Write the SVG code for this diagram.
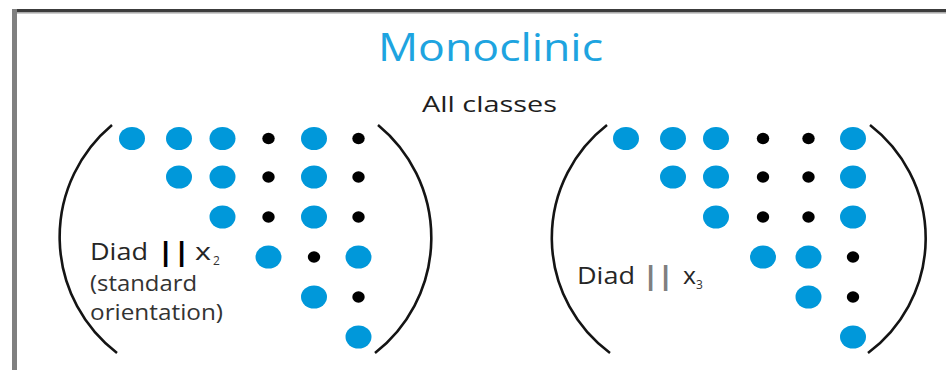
<svg xmlns="http://www.w3.org/2000/svg" width="946" height="370" viewBox="0 0 946 370">
  <style>
    .title { font-family: "Open Sans", "Noto Sans", sans-serif; font-size: 39px; fill: #1ea4e0; }
    .sub { font-family: "Open Sans", "Noto Sans", sans-serif; font-size: 22px; fill: #1e1e1e; }
    .lbl { font-family: "Open Sans", "Noto Sans", sans-serif; font-size: 23px; fill: #262626; }
    .note { font-family: "Open Sans", "Noto Sans", sans-serif; font-size: 21px; fill: #333333; }
    .idx { font-family: "Open Sans", "Noto Sans", sans-serif; font-size: 12px; fill: #333333; }
    .bar { font-family: "Open Sans", "Noto Sans", sans-serif; font-size: 26px; font-weight: 800; text-anchor: middle; }
    .paren { fill: none; stroke: #141414; stroke-width: 2.6; }
    .nz { fill: #0098da; }
    .z { fill: #000000; }
  </style>
  <defs>
    <ellipse id="nz" class="nz" cx="0" cy="0" rx="13" ry="11.5"/>
    <ellipse id="z" class="z" cx="0" cy="0" rx="6.2" ry="5.7"/>
  </defs>

  <rect x="0" y="0" width="946" height="370" fill="#ffffff"/>

  <!-- frame -->
  <g id="frame">
    <rect x="15" y="9" width="931" height="3.5" fill="#3c3c3c"/>
    <rect x="15" y="12.5" width="931" height="1.2" fill="#b8b8b8"/>
    <rect x="12" y="9" width="5" height="361" fill="#808080"/>
  </g>

  <g id="heading">
    <text class="title" x="378" y="61" textLength="225" lengthAdjust="spacingAndGlyphs">Monoclinic</text>
    <text class="sub" x="422" y="111.5" textLength="135" lengthAdjust="spacingAndGlyphs">All classes</text>
  </g>

  <!-- diad parallel to x2 -->
  <g id="matrix-x2">
    <path class="paren" d="M112,125 A146,146 0 0 0 117,353"/>
    <path class="paren" d="M378,125 A146,146 0 0 1 375,353"/>
    <!-- row 1 -->
    <use href="#nz" x="132" y="138.5"/>
    <use href="#nz" x="179" y="138.5"/>
    <use href="#nz" x="222.5" y="138.5"/>
    <use href="#z" x="268.5" y="138.5"/>
    <use href="#nz" x="314" y="138.5"/>
    <use href="#z" x="358.5" y="138.5"/>
    <!-- row 2 -->
    <use href="#nz" x="179" y="177"/>
    <use href="#nz" x="222.5" y="177"/>
    <use href="#z" x="268.5" y="177"/>
    <use href="#nz" x="314" y="177"/>
    <use href="#z" x="358.5" y="177"/>
    <!-- row 3 -->
    <use href="#nz" x="222.5" y="217"/>
    <use href="#z" x="268.5" y="217"/>
    <use href="#nz" x="314" y="217"/>
    <use href="#z" x="358.5" y="217"/>
    <!-- row 4 -->
    <use href="#nz" x="268.5" y="257"/>
    <use href="#z" x="314" y="257"/>
    <use href="#nz" x="358.5" y="257"/>
    <!-- row 5 -->
    <use href="#nz" x="314" y="297"/>
    <use href="#z" x="358.5" y="297"/>
    <!-- row 6 -->
    <use href="#nz" x="358.5" y="337"/>

    <text class="lbl" x="90" y="259.5" textLength="58" lengthAdjust="spacingAndGlyphs">Diad</text>
    <text class="bar" x="165.5" y="260.5" fill="#000000">|</text>
    <text class="bar" x="181.5" y="260.5" fill="#000000">|</text>
    <text class="lbl" x="195" y="259.5" textLength="16" lengthAdjust="spacingAndGlyphs">x</text>
    <text class="idx" x="213" y="265">2</text>
    <text class="note" x="90" y="291" textLength="107" lengthAdjust="spacingAndGlyphs">(standard</text>
    <text class="note" x="90" y="320" textLength="133" lengthAdjust="spacingAndGlyphs">orientation)</text>
  </g>

  <!-- diad parallel to x3 -->
  <g id="matrix-x3">
    <path class="paren" d="M607,125 A143,143 0 0 0 610,353"/>
    <path class="paren" d="M870,125 A143,143 0 0 1 868,353"/>
    <!-- row 1 -->
    <use href="#nz" x="626" y="138.5"/>
    <use href="#nz" x="673" y="138.5"/>
    <use href="#nz" x="716" y="138.5"/>
    <use href="#z" x="763" y="138.5"/>
    <use href="#z" x="808.5" y="138.5"/>
    <use href="#nz" x="853" y="138.5"/>
    <!-- row 2 -->
    <use href="#nz" x="673" y="177"/>
    <use href="#nz" x="716" y="177"/>
    <use href="#z" x="763" y="177"/>
    <use href="#z" x="808.5" y="177"/>
    <use href="#nz" x="853" y="177"/>
    <!-- row 3 -->
    <use href="#nz" x="716" y="217"/>
    <use href="#z" x="763" y="217"/>
    <use href="#z" x="808.5" y="217"/>
    <use href="#nz" x="853" y="217"/>
    <!-- row 4 -->
    <use href="#nz" x="763" y="257"/>
    <use href="#nz" x="808.5" y="257"/>
    <use href="#z" x="853" y="257"/>
    <!-- row 5 -->
    <use href="#nz" x="808.5" y="297"/>
    <use href="#z" x="853" y="297"/>
    <!-- row 6 -->
    <use href="#nz" x="853" y="337"/>

    <text class="lbl" x="577" y="284.3" textLength="58" lengthAdjust="spacingAndGlyphs">Diad</text>
    <text class="bar" x="650.5" y="284.5" fill="#7f7f7f">|</text>
    <text class="bar" x="665.5" y="284.5" fill="#7f7f7f">|</text>
    <text class="lbl" x="683" y="284.3" textLength="13" lengthAdjust="spacingAndGlyphs">x</text>
    <text class="idx" x="696" y="288.5">3</text>
  </g>
</svg>
